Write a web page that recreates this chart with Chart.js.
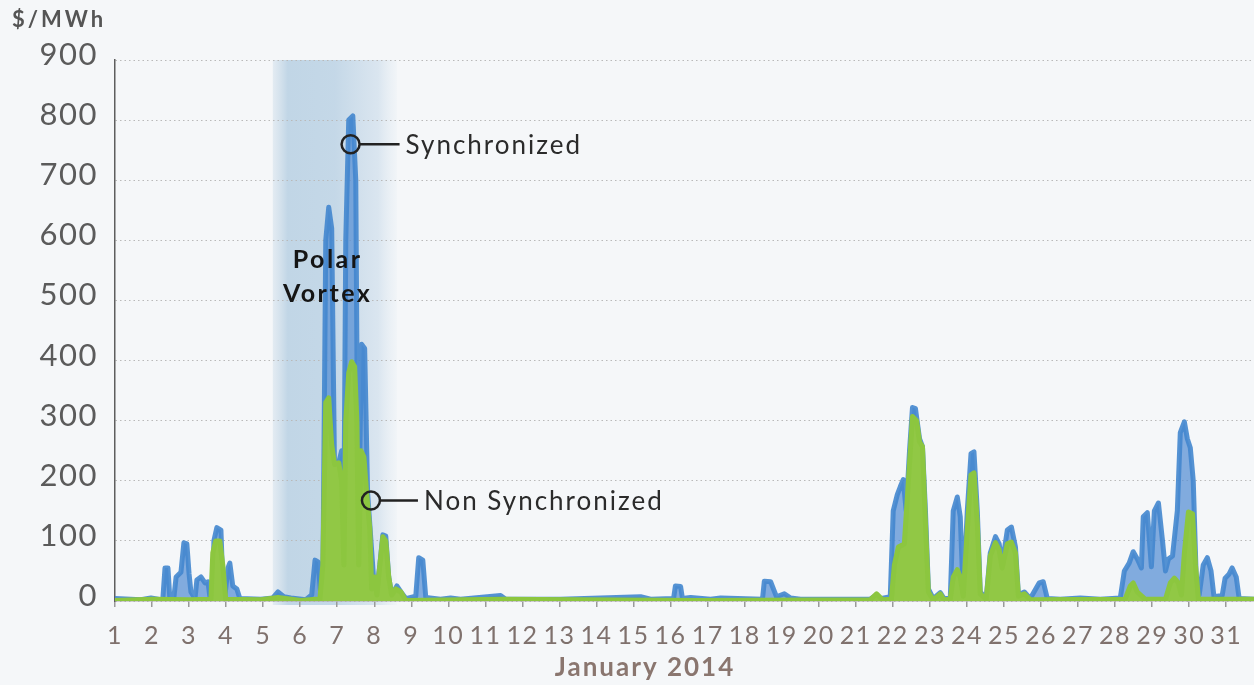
<!DOCTYPE html>
<html>
<head>
<meta charset="utf-8">
<title>Synchronized vs Non Synchronized reserve prices - January 2014</title>
<script src="https://cdn.jsdelivr.net/npm/chart.js@4.4.1/dist/chart.umd.min.js"></script>
<style>
    html, body { margin: 0; padding: 0; background: #f5f7f9; }
    #grafico { display: block; }
</style>
</head>
<body>
<canvas id="grafico" width="1254" height="685"></canvas>
<script>
// days of January 2014 shown on the x axis
var days = [1, 2, 3, 4, 5, 6, 7, 8, 9, 10, 11, 12, 13, 14, 15, 16, 17, 18, 19, 20, 21, 22, 23, 24, 25, 26, 27, 28, 29, 30, 31];
var priceTicks = [0, 100, 200, 300, 400, 500, 600, 700, 800, 900];

// [day, $/MWh]
var synchronized = [
    [1.00, 4], [1.70, 2], [1.97, 5], [2.24, 2], [2.29, 2], [2.35, 55], [2.43, 55], [2.48, 4], [2.59, 6],
    [2.65, 40], [2.78, 48], [2.86, 97], [2.94, 95], [3.00, 45], [3.05, 15], [3.16, 4], [3.21, 35], [3.32, 40],
    [3.43, 30], [3.51, 32], [3.56, 8], [3.64, 10], [3.67, 100], [3.75, 122], [3.86, 118], [3.91, 30], [3.97, 10],
    [4.05, 55], [4.10, 63], [4.18, 25], [4.29, 20], [4.37, 4], [4.94, 3], [5.26, 5], [5.40, 15], [5.56, 7],
    [5.75, 5], [6.15, 2], [6.31, 10], [6.40, 68], [6.48, 65], [6.56, 8], [6.61, 20], [6.69, 600], [6.77, 655],
    [6.85, 620], [6.93, 200], [7.04, 230], [7.12, 250], [7.18, 150], [7.23, 600], [7.31, 800], [7.42, 807],
    [7.50, 700], [7.56, 150], [7.61, 250], [7.66, 427], [7.74, 420], [7.82, 180], [7.91, 100], [7.99, 30],
    [8.07, 20], [8.15, 60], [8.23, 110], [8.31, 108], [8.39, 40], [8.47, 10], [8.61, 25], [8.72, 15], [8.85, 4],
    [9.12, 8], [9.20, 72], [9.31, 68], [9.39, 6], [9.79, 3], [10.06, 5], [10.33, 3], [11.41, 9], [11.55, 3],
    [13.03, 3], [15.19, 7], [15.46, 3], [16.08, 4], [16.13, 25], [16.27, 24], [16.32, 4], [16.54, 6], [17.08, 3],
    [17.35, 5], [18.48, 3], [18.53, 33], [18.70, 32], [18.86, 7], [19.07, 12], [19.24, 5], [19.51, 3], [21.39, 3],
    [21.56, 10], [21.66, 4], [21.93, 7], [22.01, 150], [22.12, 177], [22.20, 190], [22.28, 202], [22.36, 150],
    [22.45, 250], [22.53, 322], [22.61, 320], [22.72, 270], [22.80, 257], [22.88, 150], [22.96, 20], [23.09, 4],
    [23.28, 14], [23.38, 4], [23.55, 4], [23.63, 150], [23.74, 173], [23.82, 140], [23.90, 10], [24.01, 150],
    [24.11, 245], [24.19, 248], [24.28, 150], [24.36, 15], [24.52, 4], [24.63, 80], [24.77, 107], [24.87, 95],
    [24.95, 60], [25.09, 118], [25.20, 123], [25.31, 90], [25.39, 10], [25.55, 15], [25.71, 4], [25.95, 30],
    [26.06, 32], [26.17, 4], [26.52, 3], [27.06, 5], [27.60, 3], [28.14, 5], [28.25, 50], [28.38, 63], [28.49, 82],
    [28.60, 70], [28.71, 55], [28.76, 140], [28.87, 147], [28.98, 57], [29.06, 150], [29.17, 163], [29.28, 100],
    [29.36, 50], [29.44, 70], [29.55, 75], [29.68, 150], [29.76, 280], [29.87, 298], [29.95, 270], [30.03, 255],
    [30.11, 200], [30.19, 40], [30.27, 10], [30.38, 60], [30.49, 72], [30.59, 50], [30.67, 7], [30.89, 9],
    [30.97, 38], [31.08, 45], [31.16, 55], [31.27, 40], [31.35, 4], [31.75, 3]
];

var nonSynchronized = [
    [1.00, 1], [2.00, 3], [3.00, 2], [3.59, 3], [3.64, 80], [3.72, 100], [3.83, 100], [3.91, 60], [3.99, 3],
    [4.94, 2], [5.40, 6], [6.02, 1], [6.42, 3], [6.53, 2], [6.61, 60], [6.69, 330], [6.77, 338], [6.85, 260],
    [6.93, 227], [7.04, 230], [7.12, 200], [7.18, 60], [7.23, 300], [7.31, 380], [7.39, 398], [7.47, 390],
    [7.53, 300], [7.58, 60], [7.64, 250], [7.72, 240], [7.80, 175], [7.88, 120], [7.93, 20], [8.01, 40],
    [8.07, 10], [8.15, 60], [8.23, 107], [8.31, 100], [8.39, 40], [8.47, 10], [8.58, 20], [8.72, 15], [8.85, 1],
    [11.41, 3], [16.81, 1], [21.39, 2], [21.56, 12], [21.72, 2], [21.96, 3], [22.04, 60], [22.15, 90],
    [22.31, 95], [22.42, 200], [22.53, 307], [22.64, 300], [22.72, 265], [22.80, 257], [22.88, 130], [22.96, 15],
    [23.09, 2], [23.28, 12], [23.38, 2], [23.55, 3], [23.63, 40], [23.74, 52], [23.82, 40], [23.90, 8],
    [24.01, 120], [24.11, 210], [24.19, 213], [24.28, 130], [24.36, 12], [24.52, 3], [24.63, 75], [24.77, 97],
    [24.87, 85], [24.95, 55], [25.09, 95], [25.20, 98], [25.31, 80], [25.39, 8], [25.55, 12], [25.71, 2],
    [28.27, 3], [28.41, 25], [28.49, 30], [28.60, 15], [28.81, 3], [29.36, 3], [29.49, 30], [29.60, 38],
    [29.71, 30], [29.79, 10], [29.87, 80], [29.98, 148], [30.09, 145], [30.17, 60], [30.25, 3], [31.75, 3]
];

// polar vortex period and the two callouts, in chart units
var vortexFrom = 5.26;
var vortexTo = 8.61;
var syncMark = [7.36, 760];
var nonSyncMark = [7.91, 167];

function toPoints(lista) {
    return lista.map(function (p) {
        return { x: p[0], y: p[1] };
    });
}

var fundo = {
    id: "fundo",
    beforeDraw: function (chart) {
        var ctx = chart.ctx;
        var area = chart.chartArea;
        var x = chart.scales.x;

        ctx.save();
        ctx.fillStyle = "#f5f7f9";
        ctx.fillRect(0, 0, chart.width, chart.height);

        var x0 = x.getPixelForValue(vortexFrom);
        var x1 = x.getPixelForValue(vortexTo);
        var g = ctx.createLinearGradient(x0, 0, x1, 0);
        g.addColorStop(0, "rgba(185,208,226,0.3)");
        g.addColorStop(0.12, "rgba(165,196,220,0.65)");
        g.addColorStop(0.5, "rgba(170,199,222,0.65)");
        g.addColorStop(0.85, "rgba(185,208,228,0.45)");
        g.addColorStop(1, "rgba(205,222,235,0.1)");
        ctx.fillStyle = g;
        ctx.fillRect(x0, area.top, x1 - x0, area.bottom - area.top + 4);
        ctx.restore();

        ctx.letterSpacing = "1.5px";
    }
};

function callout(ctx, chart, ponto, texto, gap) {
    var px = chart.scales.x.getPixelForValue(ponto[0]);
    var py = chart.scales.y.getPixelForValue(ponto[1]);

    ctx.beginPath();
    ctx.arc(px, py, 9, 0, 2 * Math.PI);
    ctx.stroke();
    ctx.beginPath();
    ctx.moveTo(px + 9, py);
    ctx.lineTo(px + gap - 6, py);
    ctx.stroke();
    ctx.fillText(texto, px + gap, py + 1);
}

var textos = {
    id: "textos",
    afterDatasetsDraw: function (chart) {
        var ctx = chart.ctx;
        var x = chart.scales.x;
        var y = chart.scales.y;

        ctx.save();
        ctx.strokeStyle = "#222";
        ctx.lineWidth = 2.5;
        ctx.fillStyle = "#2b2b2b";
        ctx.font = "26px Lato";
        ctx.letterSpacing = "2px";
        ctx.textAlign = "left";
        ctx.textBaseline = "middle";
        callout(ctx, chart, syncMark, "Synchronized", 55);
        callout(ctx, chart, nonSyncMark, "Non Synchronized", 53);

        ctx.fillStyle = "#151515";
        ctx.font = "bold 25px Lato";
        ctx.letterSpacing = "2.5px";
        ctx.textAlign = "center";
        ctx.fillText("Polar", x.getPixelForValue(6.74), y.getPixelForValue(568));
        ctx.fillText("Vortex", x.getPixelForValue(6.74), y.getPixelForValue(511));
        ctx.restore();
    },
    afterDraw: function (chart) {
        var ctx = chart.ctx;
        ctx.save();
        ctx.textBaseline = "middle";
        ctx.fillStyle = "#555";
        ctx.font = "bold 22px Lato";
        ctx.letterSpacing = "3px";
        ctx.textAlign = "left";
        ctx.fillText("$/MWh", 12, 20);

        ctx.fillStyle = "#8a766f";
        ctx.font = "bold 26px Lato";
        ctx.letterSpacing = "2px";
        ctx.textAlign = "center";
        ctx.fillText("January 2014", 645, 668);
        ctx.restore();
    }
};

var ctx = document.getElementById("grafico").getContext("2d");

new Chart(ctx, {
    type: "line",
    data: {
        datasets: [{
            label: "Non Synchronized",
            data: toPoints(nonSynchronized),
            borderColor: "#8cc63f",
            backgroundColor: "#91c845",
            borderWidth: 5,
            fill: "origin",
            order: 1
        }, {
            label: "Synchronized",
            data: toPoints(synchronized),
            borderColor: "rgba(66,134,206,0.9)",
            backgroundColor: "rgba(84,142,210,0.72)",
            borderWidth: 5,
            fill: "origin",
            order: 2
        }]
    },
    options: {
        responsive: false,
        animation: false,
        devicePixelRatio: 1,
        layout: { padding: { top: 60, right: 0, bottom: 0, left: 0 } },
        elements: {
            point: { radius: 0 },
            line: { tension: 0, borderJoinStyle: "round", borderCapStyle: "round" }
        },
        plugins: {
            legend: { display: false },
            tooltip: { enabled: false }
        },
        scales: {
            x: {
                type: "linear",
                min: 1,
                max: 31.75,
                afterBuildTicks: function (scale) {
                    scale.ticks = days.map(function (d) { return { value: d }; });
                },
                afterFit: function (scale) {
                    scale.height = 84;
                    scale.paddingLeft = 0;
                    scale.paddingRight = 0;
                },
                grid: {
                    drawOnChartArea: false,
                    drawTicks: true,
                    tickLength: 6,
                    color: "#9a9a9a",
                    lineWidth: 1.5
                },
                border: { display: true, color: "#a8a8a8", width: 1.5 },
                ticks: {
                    autoSkip: false,
                    maxRotation: 0,
                    padding: 14,
                    color: "#7f716d",
                    font: { family: "Lato", size: 25 },
                    callback: function (v) { return String(v); }
                }
            },
            y: {
                min: 0,
                max: 900,
                afterBuildTicks: function (scale) {
                    scale.ticks = priceTicks.map(function (v) { return { value: v }; });
                },
                afterFit: function (scale) {
                    scale.width = 115;
                    scale.paddingTop = 0;
                    scale.paddingBottom = 0;
                },
                grid: {
                    drawTicks: false,
                    color: "#b9b9b9",
                    lineWidth: 1
                },
                border: { display: true, color: "#5e5e5e", width: 1.5, dash: [1.5, 3] },
                ticks: {
                    padding: 17,
                    labelOffset: -5,
                    color: "#5b5b5b",
                    font: { family: "Lato", size: 31 }
                }
            }
        }
    },
    plugins: [fundo, textos]
});
</script>
</body>
</html>
